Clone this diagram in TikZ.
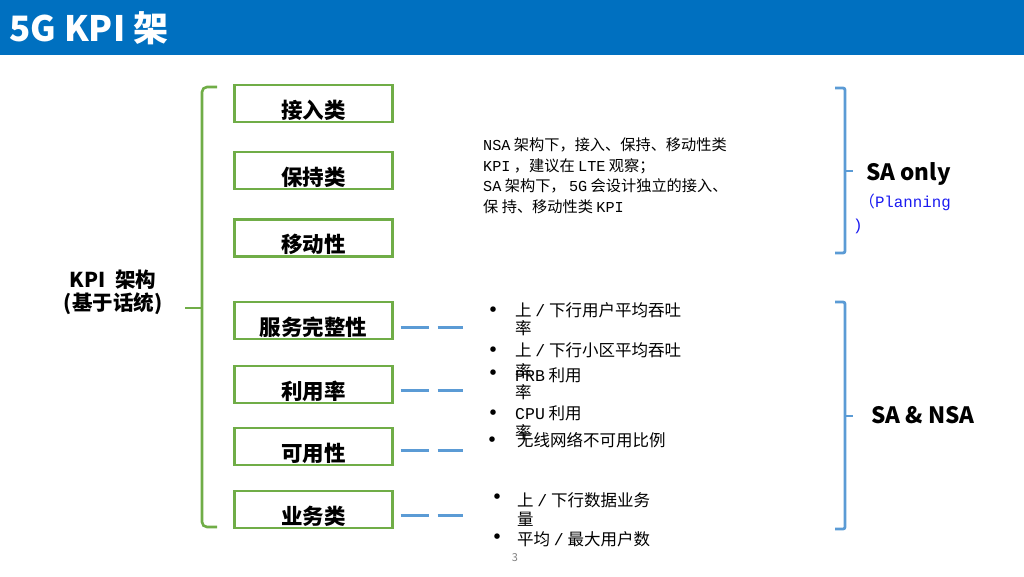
\documentclass[tikz,border=0pt]{standalone}
\usepackage{fontspec}
\setmainfont{Noto Sans CJK SC}
\newfontfamily\mono{Liberation Mono}
\usepackage{tikz}
\usetikzlibrary{positioning,calc}
\definecolor{hdrblue}{HTML}{0070C0}
\definecolor{kpigreen}{HTML}{70AD47}
\definecolor{linkblue}{HTML}{5B9BD5}
\definecolor{planblue}{HTML}{1A1AF0}

\begin{document}
\begin{tikzpicture}[x=1pt, y=-1pt,
		kpibox/.style={draw=kpigreen, line width=2.2pt, minimum width=158pt,
				minimum height=37pt, inner sep=0pt, text height=32pt, text depth=2pt,
				font=\fontsize{21.5}{24}\selectfont\bfseries},
		dashlink/.style={draw=linkblue, line width=3pt,
				dash pattern=on 28pt off 9pt on 25pt off 100pt},
		gbrace/.style={draw=kpigreen, line width=2.6pt, rounded corners=5pt},
		bbrace/.style={draw=linkblue, line width=2.8pt, rounded corners=2pt},
		note/.style={anchor=base west, inner sep=0pt, font=\fontsize{16.5}{20}\selectfont},
		dot/.style={anchor=base, inner sep=0pt, font=\fontsize{26}{28}\selectfont},
		tag/.style={anchor=base west, inner sep=0pt, font=\fontsize{22.5}{26}\selectfont\bfseries}
		]
		\useasboundingbox (0,0) rectangle (1024,576);
		% header
		\fill[hdrblue] (0,0) rectangle (1024,55);
		\node[anchor=base west, inner sep=0pt, text=white,
			font=\fontsize{35}{40}\selectfont\bfseries] (title) at (9,41) {5G KPI 架};
		% KPI boxes
		\node[kpibox] (acc) at (313.5,103.5) {接入类};
		\node[kpibox, below=28pt of acc] (ret) {保持类};
		\node[kpibox, below=28pt of ret] (mob) {移动性};
		\node[kpibox, below=43pt of mob] (svc) {服务完整性};
		\node[kpibox, below=25pt of svc] (use) {利用率};
		\node[kpibox, below=23pt of use] (avl) {可用性};
		\node[kpibox, below=24pt of avl] (trf) {业务类};
		\node[align=center, inner sep=0pt, font=\fontsize{20.5}{23}\selectfont\bfseries]
		(root) at (113,292) {KPI\ \ 架构\\(基于话统)};
		% green brace
		\draw[gbrace] (217,87) -- (202,87) -- (202,527) -- (217,527);
		\draw[gbrace] (185,308) -- (202,308);
		% blue links
		\draw[dashlink] ([shift={(7,7)}]svc.east) -- ++(62,0);
		\draw[dashlink] ([shift={(7,6)}]use.east) -- ++(62,0);
		\draw[dashlink] ([shift={(7,4)}]avl.east) -- ++(62,0);
		\draw[dashlink] ([shift={(7,6)}]trf.east) -- ++(62,0);
		% SA note
		\node[anchor=north west, inner sep=0pt, align=left,
			font=\fontsize{15.2}{20.5}\selectfont] (nsa) at (483,138)
		{{\mono NSA} 架构下，接入、保持、移动性类\\
			{\mono KPI} ，建议在 {\mono LTE} 观察；\\
			{\mono SA} 架构下， {\mono 5G} 会设计独立的接入、\\
			保 持、移动性类 {\mono KPI}};
		% bullets
		\node[dot] (b1) at (493,319) {•};
		\node[note] (l1) at (515,316) {上 {\mono /} 下行用户平均吞吐};
		\node[note] (l1b) at (515,334) {率};
		\node[dot] (b2) at (493,359) {•};
		\node[note] (l2) at (515,356) {上 {\mono /} 下行小区平均吞吐};
		\node[note] (l2b) at (515,377) {率};
		\node[dot] (b3) at (493,382) {•};
		\node[note] (l3) at (515,381) {{\mono PRB} 利用};
		\node[note] (l3b) at (515,398) {率};
		\node[dot] (b4) at (493,422) {•};
		\node[note] (l4) at (515,419) {{\mono CPU} 利用};
		\node[note] (l4b) at (515,438) {率};
		\node[dot] (b5) at (492,449) {•};
		\node[note] (l5) at (517,446) {无线网络不可用比例};
		\node[dot] (b6) at (497,506) {•};
		\node[note] (l6) at (517,506) {上 {\mono /} 下行数据业务};
		\node[note] (l6b) at (517,525) {量};
		\node[dot] (b7) at (497,546) {•};
		\node[note] (l7) at (517,545) {平均 {\mono /} 最大用户数};
		\node[text=gray, font=\fontsize{11}{12}\selectfont, inner sep=0pt] (pg) at (515,558) {3};
		% blue braces
		\draw[bbrace] (835,88) -- (845,88) -- (845,253) -- (835,253);
		\draw[bbrace] (845,171) -- (853,171);
		\draw[bbrace] (835,302) -- (845,302) -- (845,529) -- (835,529);
		\draw[bbrace] (845,416) -- (853,416);
		\node[tag] (saonly) at (866,180) {SA only};
		\node[anchor=base west, inner sep=0pt, text=planblue,
			font=\fontsize{15.8}{18}\selectfont] (plan) at (859,207) {（{\mono Planning}};
		\node[anchor=base west, inner sep=0pt, text=planblue,
			font=\fontsize{15.8}{18}\selectfont\mono] (planend) at (853,230) {)};
		\node[tag] (sansa) at (871,423) {SA \& NSA};
\end{tikzpicture}
\end{document}
